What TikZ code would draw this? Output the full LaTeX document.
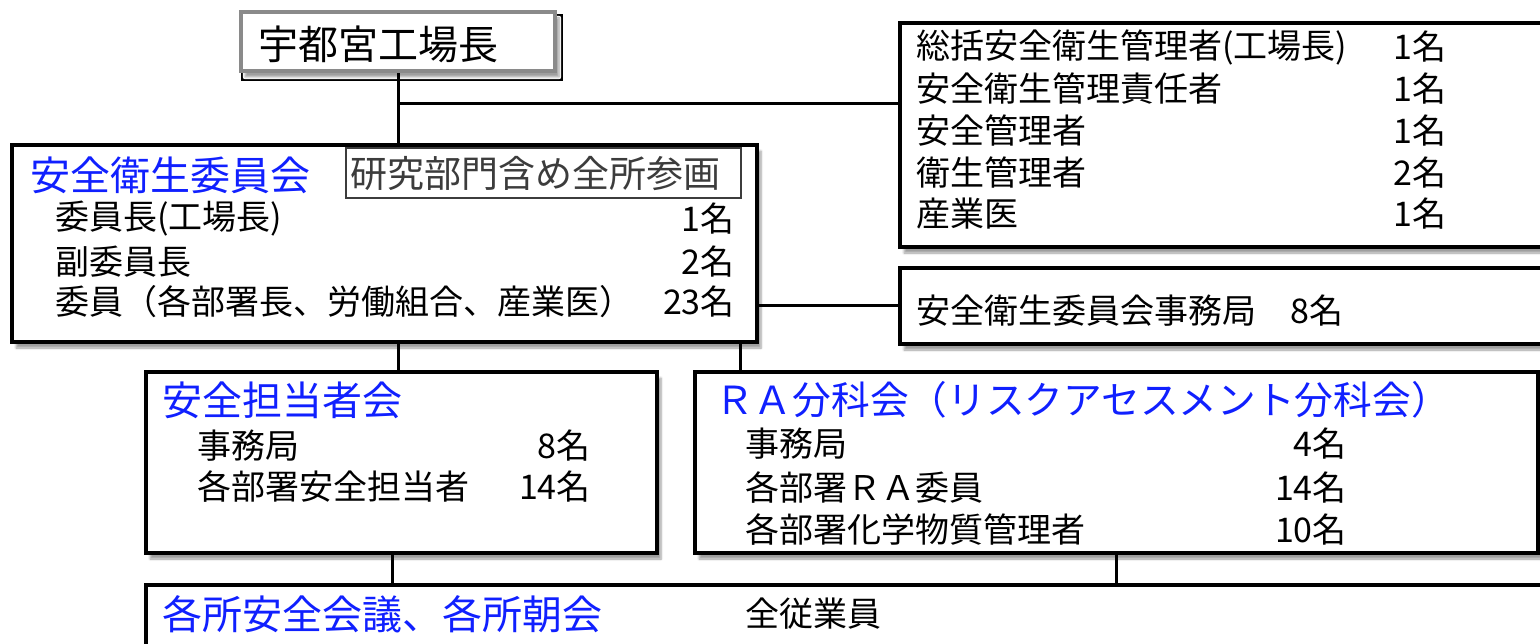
\documentclass[tikz,border=0pt]{standalone}
\usepackage{fontspec}
\setmainfont{Noto Sans CJK JP}
\usetikzlibrary{shadows.blur}
\definecolor{ttlblue}{RGB}{16,32,255}
\definecolor{bossgray}{RGB}{138,138,138}
\definecolor{notegray}{RGB}{60,60,60}
\pgfdeclarelayer{bg}
\pgfsetlayers{bg,main}
\tikzset{
  shd/.style={blur shadow={shadow xshift=4pt, shadow yshift=-6pt, shadow blur steps=6, shadow opacity=38}},
  box/.style={draw=black, line width=4.5pt, fill=white, rectangle, inner sep=0pt, outer sep=0pt, shd},
  bossbox/.style={box, draw=bossgray},
  notebox/.style={draw=notegray, line width=1.6pt, fill=white, rectangle, inner sep=0pt, outer sep=0pt},
  conn/.style={line width=3pt, draw=black},
  txt/.style={anchor=west, inner sep=0pt, font=\fontsize{34}{40}\selectfont},
  num/.style={anchor=east, inner sep=0pt, font=\fontsize{34}{40}\selectfont},
  ttl/.style={anchor=west, inner sep=0pt, text=ttlblue, font=\fontsize{40}{46}\selectfont},
}
\begin{document}
\begin{tikzpicture}[x=1pt, y=-1pt]
\useasboundingbox (0,0) rectangle (1540,644);
\begin{pgfonlayer}{bg}
\fill[white] (0,0) rectangle (1540,644);
\end{pgfonlayer}

% connector junctions
\coordinate (j1) at (398,104);
\coordinate (j2) at (740,342);
\coordinate (j3) at (392,553);

% boxes
\node[bossbox, minimum width=314pt, minimum height=59pt] (boss) at (398,41.5) {};
\node[box, minimum width=660pt, minimum height=224pt] (mgr) at (1230,135) {};
\node[box, minimum width=745pt, minimum height=197pt] (cmt) at (384.5,243.5) {};
\node[box, minimum width=660pt, minimum height=76pt] (sec) at (1230,306) {};
\node[box, minimum width=511pt, minimum height=181pt] (tanto) at (401.5,462.5) {};
\node[box, minimum width=843pt, minimum height=181pt] (ra) at (1116.5,462.5) {};
\node[box, minimum width=1414pt, minimum height=105pt] (all) at (853,637.5) {};
\node[notebox, minimum width=395pt, minimum height=50pt] (note) at (543.5,173) {};

% connectors
\begin{pgfonlayer}{bg}
\draw[conn] (boss.south) -- (boss.south |- cmt.north);
\draw[conn] (j1) -- (j1 -| mgr.west);
\draw[conn] (cmt.east |- sec.west) -- (sec.west);
\draw[conn] (cmt.south -| boss.south) -- (tanto.north -| boss.south);
\draw[conn] (j2) -- (j2 |- ra.north);
\draw[conn] (j3) -- (j3 |- all.north);
\draw[conn] (ra.south) -- (ra.south |- all.north);
\end{pgfonlayer}

% texts
\node[anchor=west, inner sep=0pt, font=\fontsize{40}{46}\selectfont] (bosst) at (258,44) {宇都宮工場長};

\node[txt] (m1) at (916,47) {総括安全衛生管理者(工場長)};
\node[txt] (m2) at (916,89) {安全衛生管理責任者};
\node[txt] (m3) at (916,131) {安全管理者};
\node[txt] (m4) at (916,173) {衛生管理者};
\node[txt] (m5) at (916,214) {産業医};
\node[num] (mn1) at (1447,47) {1名};
\node[num] (mn2) at (1447,89) {1名};
\node[num] (mn3) at (1447,131) {1名};
\node[num] (mn4) at (1447,173) {2名};
\node[num] (mn5) at (1447,214) {1名};

\node[ttl] (cmtt) at (30,175) {安全衛生委員会};
\node[anchor=west, inner sep=0pt, text=notegray, font=\fontsize{37}{42}\selectfont] (notet) at (350,174) {研究部門含め全所参画};
\node[txt] (c1) at (55,219) {委員長(工場長)};
\node[txt] (c2) at (55,262) {副委員長};
\node[txt] (c3) at (55,302) {委員（各部署長、労働組合、産業医）};
\node[num] (cn1) at (735,219) {1名};
\node[num] (cn2) at (735,262) {2名};
\node[num] (cn3) at (735,302) {23名};

\node[txt] (sect) at (916,311) {安全衛生委員会事務局　8名};

\node[ttl] (tantot) at (162,400) {安全担当者会};
\node[txt] (t1) at (197,446) {事務局};
\node[txt] (t2) at (197,487) {各部署安全担当者};
\node[num] (tn1) at (591,446) {8名};
\node[num] (tn2) at (591,487) {14名};

\node[ttl, font=\fontsize{38.7}{46}\selectfont] (rat) at (715,400) {ＲＡ分科会（リスクアセスメント分科会）};
\node[txt] (r1) at (745,444) {事務局};
\node[txt] (r2) at (745,488) {各部署ＲＡ委員};
\node[txt] (r3) at (745,530) {各部署化学物質管理者};
\node[num] (rn1) at (1347,444) {4名};
\node[num] (rn2) at (1347,488) {14名};
\node[num] (rn3) at (1347,530) {10名};

\node[ttl] (allt) at (162,614) {各所安全会議、各所朝会};
\node[txt] (allw) at (745,614) {全従業員};
\end{tikzpicture}
\end{document}
